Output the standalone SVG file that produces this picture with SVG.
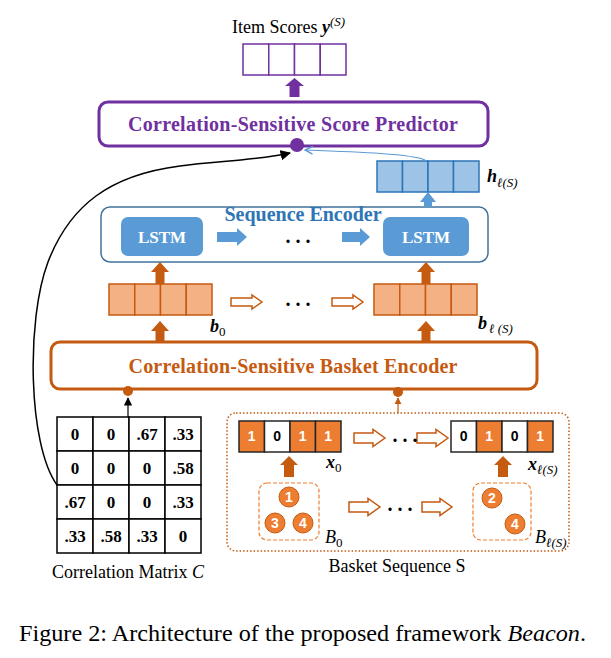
<svg xmlns="http://www.w3.org/2000/svg" width="611" height="658" viewBox="0 0 611 658">
<defs>
<style>
.serif{font-family:"Liberation Serif","Times New Roman",serif;}
.title{font-family:"Liberation Serif","Times New Roman",serif;font-weight:bold;font-size:20px;text-anchor:middle;}
.lstm{font-family:"Liberation Serif",serif;font-weight:bold;font-size:17px;fill:#fff;text-anchor:middle;}
.mat{font-family:"Liberation Serif",serif;font-weight:bold;font-size:17px;text-anchor:middle;}
.bit{font-family:"Liberation Sans",Arial,sans-serif;font-weight:bold;font-size:14px;text-anchor:middle;}
.lbl{font-family:"Liberation Serif",serif;font-size:18px;}
.bi{font-weight:bold;font-style:italic;}
.it{font-style:italic;}
.dots{font-family:"Liberation Serif",serif;font-weight:bold;font-size:20px;text-anchor:middle;}
.pcell{fill:#fff;stroke:#7030A0;stroke-width:1.5;}
.hcell{fill:#9DC3E6;stroke:#2E75B6;stroke-width:1.5;}
.bcell{fill:#F4B183;stroke:#C55A11;stroke-width:1.5;}
.on{fill:#ED7D31;stroke:#262626;stroke-width:1.5;}
.off{fill:#fff;stroke:#262626;stroke-width:1.5;}
.mcell{fill:#fff;stroke:#000;stroke-width:1.5;}
.hollow{fill:#fff;stroke:#C55A11;stroke-width:1.5;}
.circ{fill:#ED7D31;stroke:#C55A11;stroke-width:1;}
</style>
<marker id="ahBlack" viewBox="0 0 10 10" refX="9" refY="5" markerWidth="7" markerHeight="7" orient="auto"><path d="M0,0 L10,5 L0,10 z" fill="#000"/></marker>
<marker id="ahBlue" viewBox="0 0 10 10" refX="9" refY="5" markerWidth="8" markerHeight="8" orient="auto"><path d="M1,1 L9,5 L1,9" fill="none" stroke="#5B9BD5" stroke-width="1.5"/></marker>
<marker id="ahOrange" viewBox="0 0 10 10" refX="9" refY="5" markerWidth="6" markerHeight="6" orient="auto"><path d="M0,0 L10,5 L0,10 z" fill="#C55A11"/></marker>
</defs>
<rect width="611" height="658" fill="#fff"/>

<g id="item-scores">
<text class="lbl" x="232" y="33" font-size="19">Item Scores <tspan class="bi">y</tspan><tspan class="it" font-size="13" dy="-7">(S)</tspan></text>
<rect class="pcell" x="243" y="44" width="25.75" height="31"/>
<rect class="pcell" x="268.75" y="44" width="25.75" height="31"/>
<rect class="pcell" x="294.5" y="44" width="25.75" height="31"/>
<rect class="pcell" x="320.25" y="44" width="25.75" height="31"/>
</g>

<g id="score-predictor">
<rect x="99" y="102" width="389" height="44" rx="9" fill="#fff" stroke="#7030A0" stroke-width="3"/>
<text class="title" x="293" y="131" fill="#7030A0" textLength="330">Correlation-Sensitive Score Predictor</text>
<circle cx="297" cy="145" r="7" fill="#7030A0"/>
</g>

<g id="h-vector">
<rect class="hcell" x="377" y="161" width="25.5" height="31"/>
<rect class="hcell" x="402.5" y="161" width="25.5" height="31"/>
<rect class="hcell" x="428" y="161" width="25.5" height="31"/>
<rect class="hcell" x="453.5" y="161" width="25.5" height="31"/>
<text class="lbl" x="487" y="182" font-size="19"><tspan class="bi">h</tspan><tspan class="it" font-size="13" dy="5">ℓ(S)</tspan></text>
</g>

<g id="sequence-encoder">
<rect x="101" y="207" width="387" height="55" rx="9" fill="#fff" stroke="#41719C" stroke-width="1.5"/>
<text class="title" x="303" y="221" font-size="19" fill="#2E75B6">Sequence Encoder</text>
</g>
<g id="lstm-0">
<rect x="121" y="217" width="82" height="39" rx="7" fill="#5B9BD5"/>
<text class="lstm" x="162" y="243">LSTM</text>
</g>
<g id="lstm-l">
<rect x="383" y="217" width="86" height="39" rx="7" fill="#5B9BD5"/>
<text class="lstm" x="426" y="243">LSTM</text>
</g>

<g id="b-0">
<rect class="bcell" x="109" y="284" width="25.75" height="31"/>
<rect class="bcell" x="134.75" y="284" width="25.75" height="31"/>
<rect class="bcell" x="160.5" y="284" width="25.75" height="31"/>
<rect class="bcell" x="186.25" y="284" width="25.75" height="31"/>
<text class="lbl" x="210" y="332" font-size="19"><tspan class="bi">b</tspan><tspan font-size="13" dy="4">0</tspan></text>
</g>
<g id="b-l">
<rect class="bcell" x="374" y="284" width="25.75" height="31"/>
<rect class="bcell" x="399.75" y="284" width="25.75" height="31"/>
<rect class="bcell" x="425.5" y="284" width="25.75" height="31"/>
<rect class="bcell" x="451.25" y="284" width="25.75" height="31"/>
<text class="lbl" x="478" y="329" font-size="19"><tspan class="bi">b</tspan><tspan class="it" font-size="13" dy="4" dx="2">ℓ (S)</tspan></text>
</g>

<g id="basket-encoder">
<rect x="51" y="342" width="486" height="47" rx="9" fill="#fff" stroke="#C55A11" stroke-width="3"/>
<text class="title" x="293" y="373" fill="#C55A11" textLength="329">Correlation-Sensitive Basket Encoder</text>
<circle cx="128" cy="391" r="5" fill="#C55A11"/>
<circle cx="398" cy="392" r="5" fill="#C55A11"/>
</g>

<g id="correlation-matrix">
<rect class="mcell" x="57" y="417" width="36" height="34"/><rect class="mcell" x="93" y="417" width="36" height="34"/><rect class="mcell" x="129" y="417" width="36" height="34"/><rect class="mcell" x="165" y="417" width="36" height="34"/>
<rect class="mcell" x="57" y="451" width="36" height="34"/><rect class="mcell" x="93" y="451" width="36" height="34"/><rect class="mcell" x="129" y="451" width="36" height="34"/><rect class="mcell" x="165" y="451" width="36" height="34"/>
<rect class="mcell" x="57" y="485" width="36" height="34"/><rect class="mcell" x="93" y="485" width="36" height="34"/><rect class="mcell" x="129" y="485" width="36" height="34"/><rect class="mcell" x="165" y="485" width="36" height="34"/>
<rect class="mcell" x="57" y="519" width="36" height="34"/><rect class="mcell" x="93" y="519" width="36" height="34"/><rect class="mcell" x="129" y="519" width="36" height="34"/><rect class="mcell" x="165" y="519" width="36" height="34"/>
<text class="mat" x="75" y="440">0</text><text class="mat" x="111" y="440">0</text><text class="mat" x="147" y="440">.67</text><text class="mat" x="183" y="440">.33</text>
<text class="mat" x="75" y="474">0</text><text class="mat" x="111" y="474">0</text><text class="mat" x="147" y="474">0</text><text class="mat" x="183" y="474">.58</text>
<text class="mat" x="75" y="508">.67</text><text class="mat" x="111" y="508">0</text><text class="mat" x="147" y="508">0</text><text class="mat" x="183" y="508">.33</text>
<text class="mat" x="75" y="542">.33</text><text class="mat" x="111" y="542">.58</text><text class="mat" x="147" y="542">.33</text><text class="mat" x="183" y="542">0</text>
<text class="lbl" x="52" y="578">Correlation Matrix <tspan class="it">C</tspan></text>
</g>

<g id="basket-sequence">
<rect x="227" y="413" width="342" height="138" rx="9" fill="none" stroke="#C55A11" stroke-width="1.5" stroke-dasharray="1.5 2"/>
<text class="lbl" x="397" y="572" text-anchor="middle">Basket Sequence S</text>
</g>
<g id="x-0">
<rect class="on" x="239" y="421" width="25.5" height="31"/><rect class="off" x="264.5" y="421" width="25.5" height="31"/><rect class="on" x="290" y="421" width="25.5" height="31"/><rect class="on" x="315.5" y="421" width="25.5" height="31"/>
<text class="bit" x="251.75" y="441" fill="#fff">1</text><text class="bit" x="277.25" y="441" fill="#000">0</text><text class="bit" x="302.75" y="441" fill="#fff">1</text><text class="bit" x="328.25" y="441" fill="#fff">1</text>
<text class="lbl" x="326" y="468" font-size="19"><tspan class="bi">x</tspan><tspan font-size="13" dy="4">0</tspan></text>
</g>
<g id="x-l">
<rect class="off" x="451" y="421" width="25.5" height="31"/><rect class="on" x="476.5" y="421" width="25.5" height="31"/><rect class="off" x="502" y="421" width="25.5" height="31"/><rect class="on" x="527.5" y="421" width="25.5" height="31"/>
<text class="bit" x="463.75" y="441" fill="#000">0</text><text class="bit" x="489.25" y="441" fill="#fff">1</text><text class="bit" x="514.75" y="441" fill="#000">0</text><text class="bit" x="540.25" y="441" fill="#fff">1</text>
<text class="lbl" x="528" y="470" font-size="19"><tspan class="bi">x</tspan><tspan class="it" font-size="13" dy="4">ℓ(S)</tspan></text>
</g>
<g id="basket-0">
<rect x="259" y="483" width="60" height="57" rx="8" fill="none" stroke="#ED7D31" stroke-width="1.2" stroke-dasharray="4 2"/>
<circle class="circ" cx="289" cy="497" r="10"/><text class="bit" x="289" y="502" fill="#fff">1</text>
<circle class="circ" cx="275" cy="523" r="10"/><text class="bit" x="275" y="528" fill="#fff">3</text>
<circle class="circ" cx="303" cy="523" r="10"/><text class="bit" x="303" y="528" fill="#fff">4</text>
<text class="lbl" x="325" y="543" font-size="19"><tspan class="it">B</tspan><tspan font-size="13" dy="4">0</tspan></text>
</g>
<g id="basket-l">
<rect x="473" y="483" width="58" height="57" rx="8" fill="none" stroke="#ED7D31" stroke-width="1.2" stroke-dasharray="4 2"/>
<circle class="circ" cx="492" cy="498" r="10"/><text class="bit" x="492" y="503" fill="#fff">2</text>
<circle class="circ" cx="515" cy="524" r="10"/><text class="bit" x="515" y="529" fill="#fff">4</text>
<text class="lbl" x="535" y="543" font-size="19"><tspan class="it">B</tspan><tspan class="it" font-size="13" dy="4">ℓ(S)</tspan></text>
</g>

<g id="connectors">
<polygon points="289.5,97 289.5,86 285,86 294.5,78 304,86 299.5,86 299.5,97" fill="#7030A0"/>
<path d="M57,485 C28,445 26,320 48,262 C70,205 110,175 180,166 C220,161 260,160 290,153" fill="none" stroke="#000" stroke-width="1.5" marker-end="url(#ahBlack)"/>
<path d="M425,160 C412,154 360,152 305,150" fill="none" stroke="#5B9BD5" stroke-width="1.2" marker-end="url(#ahBlue)"/>
<polygon points="424,207 424,202 420,202 428,192 436,202 432,202 432,207" fill="#5B9BD5"/>
<polygon points="217,232 237,232 237,228 247,237 237,246 237,242 217,242" fill="#5B9BD5"/>
<polygon points="342,232 360,232 360,228 370,237 360,246 360,242 342,242" fill="#5B9BD5"/>
<polygon points="155.5,284 155.5,272 151,272 160,262 169,272 164.5,272 164.5,284" fill="#C55A11"/>
<polygon points="421.5,284 421.5,272 417,272 426,262 435,272 430.5,272 430.5,284" fill="#C55A11"/>
<polygon points="155.5,342 155.5,331 151,331 160,321 169,331 164.5,331 164.5,342" fill="#C55A11"/>
<polygon points="421.5,342 421.5,331 417,331 426,321 435,331 430.5,331 430.5,342" fill="#C55A11"/>
<polygon class="hollow" points="231,298 252,298 252,295 262,302 252,309 252,306 231,306"/>
<polygon class="hollow" points="332,298 353,298 353,295 363,302 353,309 353,306 332,306"/>
<polygon class="hollow" points="354,433 373,433 373,429.5 385,438 373,446.5 373,443 354,443"/>
<polygon class="hollow" points="417,433 436,433 436,429.5 448,438 436,446.5 436,443 417,443"/>
<polygon class="hollow" points="349,502 368,502 368,498.5 380,507 368,515.5 368,512 349,512"/>
<polygon class="hollow" points="422,502 440,502 440,498.5 452,507 440,515.5 440,512 422,512"/>
<polygon points="284,477 284,465 280,465 289,456 298,465 294,465 294,477" fill="#C55A11"/>
<polygon points="498,477 498,465 494,465 503,456 512,465 508,465 508,477" fill="#C55A11"/>
<line x1="128" y1="417" x2="128" y2="398" stroke="#000" stroke-width="1.2" marker-end="url(#ahBlack)"/>
<line x1="398" y1="413" x2="398" y2="398" stroke="#C55A11" stroke-width="1.2" marker-end="url(#ahOrange)"/>
<text class="dots" x="298" y="243">. . .</text>
<text class="dots" x="298" y="306">. . .</text>
<text class="dots" x="405" y="442">. . .</text>
<text class="dots" x="400" y="511">. . .</text>
</g>

<text class="serif" x="19" y="641" font-size="24" textLength="567" lengthAdjust="spacingAndGlyphs">Figure 2: Architecture of the proposed framework <tspan font-style="italic">Beacon</tspan>.</text>
</svg>
